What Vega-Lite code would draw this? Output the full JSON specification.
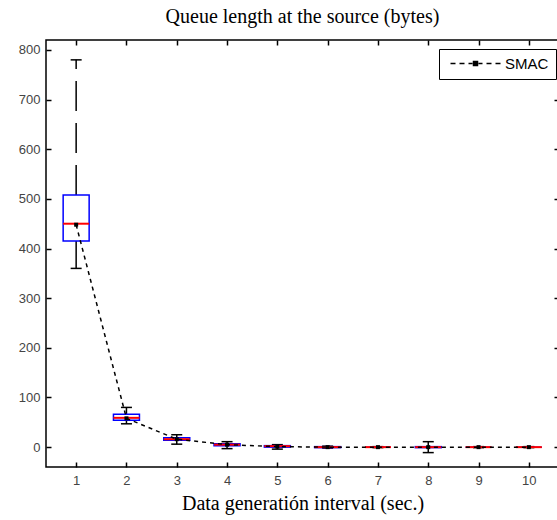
{
  "$schema": "https://vega.github.io/schema/vega-lite/v6.json",
  "autosize": {"type": "none"},
  "padding": {"left": 46, "top": 40, "right": 0, "bottom": 53},
  "width": 513,
  "height": 427,
  "title": {"text": "Queue length at the source (bytes)", "font": "Liberation Serif", "fontSize": 20, "fontWeight": "normal", "color": "black", "offset": 12},
  "data": {"values": [
    {"x": 1, "lower": 360, "q1": 415, "median": 450, "q3": 508, "upper": 780, "mean": 448},
    {"x": 2, "lower": 47, "q1": 54, "median": 59, "q3": 66, "upper": 80, "mean": 58},
    {"x": 3, "lower": 6, "q1": 14, "median": 16, "q3": 19, "upper": 25, "mean": 16},
    {"x": 4, "lower": -3, "q1": 3, "median": 5, "q3": 7, "upper": 11, "mean": 5},
    {"x": 5, "lower": -4, "q1": 0, "median": 2, "q3": 3, "upper": 5, "mean": 1},
    {"x": 6, "lower": -2, "q1": -1, "median": 0, "q3": 1, "upper": 2, "mean": 0},
    {"x": 7, "lower": -1, "q1": 0, "median": 0, "q3": 0, "upper": 1, "mean": 0},
    {"x": 8, "lower": -11, "q1": -1, "median": 0, "q3": 1, "upper": 11, "mean": 0},
    {"x": 9, "lower": -1, "q1": 0, "median": 0, "q3": 0, "upper": 1, "mean": 0},
    {"x": 10, "lower": -1, "q1": 0, "median": 0, "q3": 0, "upper": 1, "mean": 0}
  ]},
  "layer": [
    {
      "mark": {"type": "rule", "color": "black", "strokeWidth": 1.5, "strokeDash": [30, 12]},
      "encoding": {
        "x": {"field": "x", "type": "quantitative", "scale": {"domain": [0.5, 10.5], "nice": false, "zero": false}, "axis": {"values": [1,2,3,4,5,6,7,8,9,10], "title": "Data generatión interval (sec.)", "titleFont": "Liberation Serif", "titleFontSize": 20, "titleFontWeight": "normal", "titleColor": "black", "titlePadding": 6, "labelPadding": 12, "orient": "bottom"}},
        "y": {"field": "q3", "type": "quantitative", "scale": {"domain": [-40, 820], "nice": false, "zero": false}, "axis": {"values": [0,100,200,300,400,500,600,700,800], "title": null, "labelPadding": 11, "orient": "left"}},
        "y2": {"field": "upper"}
      }
    },
    {
      "mark": {"type": "rule", "color": "black", "strokeWidth": 1.5, "strokeDash": [30, 12]},
      "encoding": {
        "x": {"field": "x", "type": "quantitative", "axis": null},
        "y": {"field": "q1", "type": "quantitative", "axis": null},
        "y2": {"field": "lower"}
      }
    },
    {
      "mark": {"type": "tick", "orient": "horizontal", "color": "black", "size": 11, "thickness": 1.5, "opacity": 1},
      "encoding": {"x": {"field": "x", "type": "quantitative", "axis": null}, "y": {"field": "upper", "type": "quantitative", "axis": null}}
    },
    {
      "mark": {"type": "tick", "orient": "horizontal", "color": "black", "size": 11, "thickness": 1.5, "opacity": 1},
      "encoding": {"x": {"field": "x", "type": "quantitative", "axis": null}, "y": {"field": "lower", "type": "quantitative", "axis": null}}
    },
    {
      "mark": {"type": "bar", "width": 26, "fillOpacity": 0, "stroke": "blue", "strokeWidth": 1.5},
      "encoding": {"x": {"field": "x", "type": "quantitative", "axis": null}, "y": {"field": "q1", "type": "quantitative", "axis": null}, "y2": {"field": "q3"}}
    },
    {
      "mark": {"type": "tick", "orient": "horizontal", "color": "red", "size": 26, "thickness": 2, "opacity": 1},
      "encoding": {"x": {"field": "x", "type": "quantitative", "axis": null}, "y": {"field": "median", "type": "quantitative", "axis": null}}
    },
    {
      "mark": {"type": "line", "strokeDash": [4, 4], "strokeWidth": 1.5},
      "encoding": {
        "x": {"field": "x", "type": "quantitative", "axis": {"values": [1,2,3,4,5,6,7,8,9,10], "labels": false, "title": null, "orient": "top"}},
        "y": {"field": "mean", "type": "quantitative", "axis": {"values": [0,100,200,300,400,500,600,700,800], "labels": false, "title": null, "orient": "right"}},
        "color": {"datum": "SMAC", "type": "nominal", "scale": {"range": ["black"]}, "legend": {"title": null, "orient": "none", "legendX": 393, "legendY": 9, "strokeColor": "black", "fillColor": "white", "padding": 7, "symbolType": "M-6.25,0H-5M-4,0H-2.75M-1.75,0H-0.75M-0.5,-0.5H0.5V0.5H-0.5ZM0.75,0H1.75M2.75,0H4M5,0H6.25", "symbolSize": 64, "symbolOffset": 22, "labelOffset": 22, "symbolStrokeWidth": 1.5, "labelFont": "Liberation Sans", "labelFontSize": 15, "labelColor": "black", "cornerRadius": 0, "encode": {"symbols": {"update": {"fill": {"value": "black"}, "stroke": {"value": "black"}, "strokeWidth": {"value": 1.5}, "strokeDash": {"value": []}}}}}}
      }
    },
    {
      "mark": {"type": "square", "color": "black", "size": 16, "opacity": 1},
      "encoding": {"x": {"field": "x", "type": "quantitative", "axis": null}, "y": {"field": "mean", "type": "quantitative", "axis": null}}
    }
  ],
  "resolve": {"axis": {"x": "independent", "y": "independent"}},
  "config": {
    "view": {"stroke": "black", "strokeWidth": 1.5},
    "axis": {"domain": false, "grid": false, "tickColor": "black", "tickSize": -5, "tickWidth": 1.5, "labelFont": "Liberation Sans", "labelFontSize": 13, "labelColor": "#444", "labelPadding": 11}
  }
}
